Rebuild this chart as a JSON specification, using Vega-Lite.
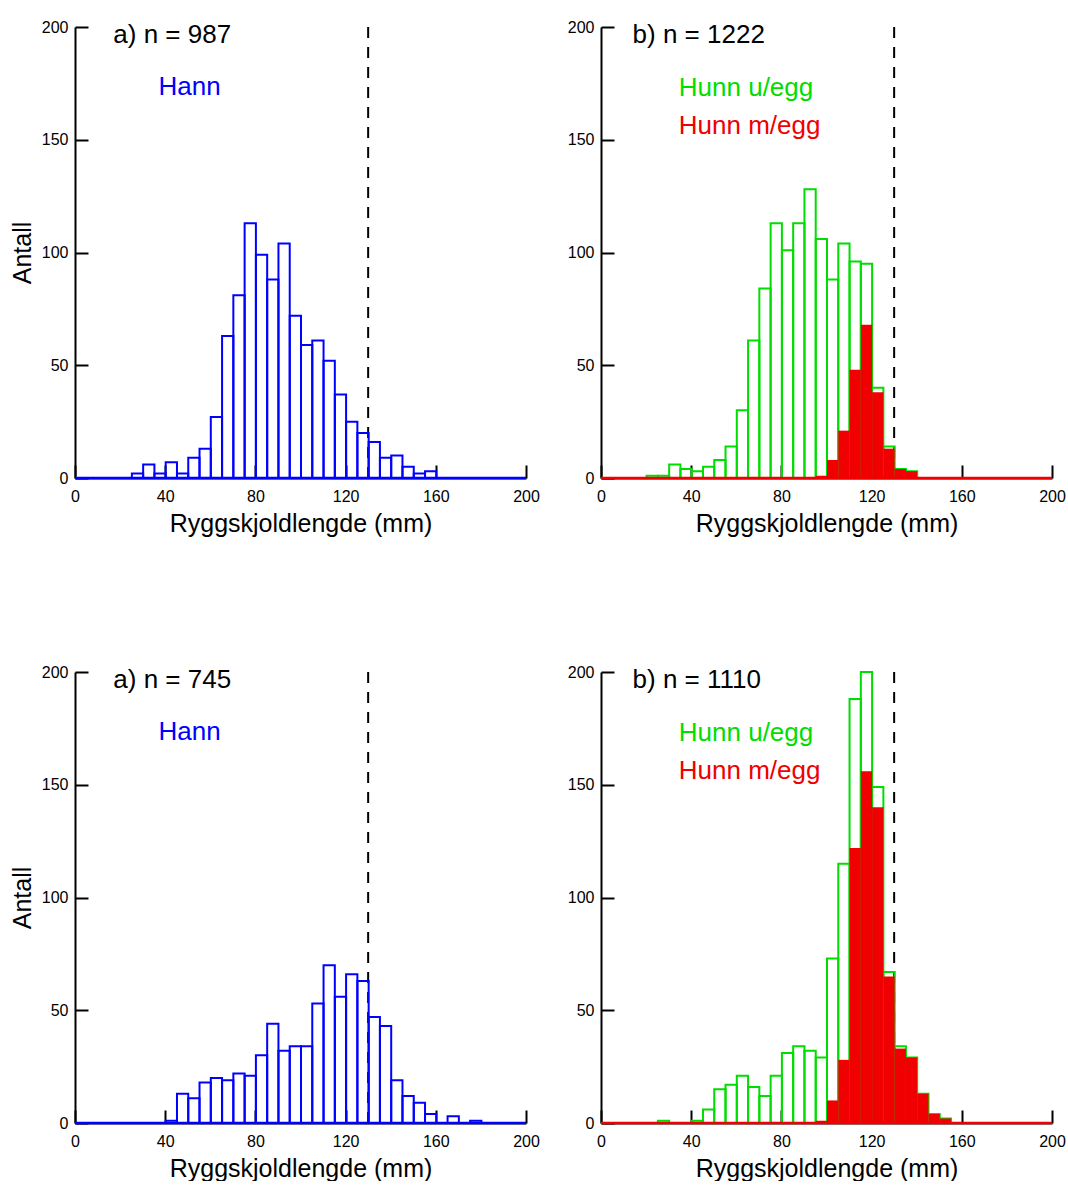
{
  "$schema": "https://vega.github.io/schema/vega-lite/v6.json",
  "padding": {"left": 10, "top": 19, "right": 0, "bottom": 0},
  "background": "white",
  "datasets": {
    "one": [{}],
    "p1": [
      {"mm": 25, "n": 2}, {"mm": 30, "n": 6}, {"mm": 35, "n": 2}, {"mm": 40, "n": 7}, {"mm": 45, "n": 2},
      {"mm": 50, "n": 9}, {"mm": 55, "n": 13}, {"mm": 60, "n": 27}, {"mm": 65, "n": 63}, {"mm": 70, "n": 81},
      {"mm": 75, "n": 113}, {"mm": 80, "n": 99}, {"mm": 85, "n": 88}, {"mm": 90, "n": 104}, {"mm": 95, "n": 72},
      {"mm": 100, "n": 59}, {"mm": 105, "n": 61}, {"mm": 110, "n": 52}, {"mm": 115, "n": 37}, {"mm": 120, "n": 25},
      {"mm": 125, "n": 20}, {"mm": 130, "n": 16}, {"mm": 135, "n": 9}, {"mm": 140, "n": 10}, {"mm": 145, "n": 5},
      {"mm": 150, "n": 2}, {"mm": 155, "n": 3}
    ],
    "p2all": [
      {"mm": 20, "n": 1}, {"mm": 25, "n": 1}, {"mm": 30, "n": 6}, {"mm": 35, "n": 4}, {"mm": 40, "n": 3},
      {"mm": 45, "n": 5}, {"mm": 50, "n": 8}, {"mm": 55, "n": 14}, {"mm": 60, "n": 30}, {"mm": 65, "n": 61},
      {"mm": 70, "n": 84}, {"mm": 75, "n": 113}, {"mm": 80, "n": 101}, {"mm": 85, "n": 113}, {"mm": 90, "n": 128},
      {"mm": 95, "n": 106}, {"mm": 100, "n": 88}, {"mm": 105, "n": 104}, {"mm": 110, "n": 96}, {"mm": 115, "n": 95},
      {"mm": 120, "n": 40}, {"mm": 125, "n": 14}, {"mm": 130, "n": 4}, {"mm": 135, "n": 3}
    ],
    "p2egg": [
      {"mm": 95, "n": 1}, {"mm": 100, "n": 8}, {"mm": 105, "n": 21}, {"mm": 110, "n": 48}, {"mm": 115, "n": 68},
      {"mm": 120, "n": 38}, {"mm": 125, "n": 13}, {"mm": 130, "n": 4}, {"mm": 135, "n": 3}
    ],
    "p3": [
      {"mm": 40, "n": 1}, {"mm": 45, "n": 13}, {"mm": 50, "n": 11}, {"mm": 55, "n": 18}, {"mm": 60, "n": 20},
      {"mm": 65, "n": 19}, {"mm": 70, "n": 22}, {"mm": 75, "n": 21}, {"mm": 80, "n": 30}, {"mm": 85, "n": 44},
      {"mm": 90, "n": 32}, {"mm": 95, "n": 34}, {"mm": 100, "n": 34}, {"mm": 105, "n": 53}, {"mm": 110, "n": 70},
      {"mm": 115, "n": 56}, {"mm": 120, "n": 66}, {"mm": 125, "n": 63}, {"mm": 130, "n": 47}, {"mm": 135, "n": 43},
      {"mm": 140, "n": 19}, {"mm": 145, "n": 12}, {"mm": 150, "n": 9}, {"mm": 155, "n": 4}, {"mm": 165, "n": 3},
      {"mm": 175, "n": 1}
    ],
    "p4all": [
      {"mm": 25, "n": 1}, {"mm": 40, "n": 1}, {"mm": 45, "n": 6}, {"mm": 50, "n": 15}, {"mm": 55, "n": 17},
      {"mm": 60, "n": 21}, {"mm": 65, "n": 16}, {"mm": 70, "n": 12}, {"mm": 75, "n": 21}, {"mm": 80, "n": 31},
      {"mm": 85, "n": 34}, {"mm": 90, "n": 32}, {"mm": 95, "n": 29}, {"mm": 100, "n": 73}, {"mm": 105, "n": 115},
      {"mm": 110, "n": 188}, {"mm": 115, "n": 200}, {"mm": 120, "n": 149}, {"mm": 125, "n": 67}, {"mm": 130, "n": 34},
      {"mm": 135, "n": 29}, {"mm": 140, "n": 13}, {"mm": 145, "n": 4}, {"mm": 150, "n": 2}
    ],
    "p4egg": [
      {"mm": 95, "n": 1}, {"mm": 100, "n": 10}, {"mm": 105, "n": 28}, {"mm": 110, "n": 122}, {"mm": 115, "n": 156},
      {"mm": 120, "n": 140}, {"mm": 125, "n": 65}, {"mm": 130, "n": 33}, {"mm": 135, "n": 29}, {"mm": 140, "n": 13},
      {"mm": 145, "n": 4}, {"mm": 150, "n": 2}
    ]
  },
  "columns": 2,
  "spacing": {"row": 194, "column": 75},
  "bounds": "flush",
  "concat": [
    {
      "width": 451, "height": 451,
      "layer": [
        {"data": {"name": "one"}, "mark": {"type": "rule", "color": "black", "strokeWidth": 2, "strokeDash": [11, 9]},
         "encoding": {"x": {"datum": 130, "type": "quantitative"}}},
        {"data": {"name": "p1"},
         "mark": {"type": "bar", "filled": false, "color": "#0000ff", "strokeWidth": 2, "binSpacing": 0},
         "encoding": {
           "x": {"field": "mm", "type": "quantitative", "bin": {"binned": true, "step": 5},
                 "scale": {"domain": [0, 200], "nice": false},
                 "axis": {"values": [0, 40, 80, 120, 160, 200], "title": "Ryggskjoldlengde (mm)"}},
           "y": {"field": "n", "type": "quantitative", "scale": {"domain": [0, 200], "nice": false},
                 "axis": {"values": [0, 50, 100, 150, 200], "title": "Antall"}}}},
        {"data": {"name": "one"}, "mark": {"type": "text", "align": "left", "baseline": "middle", "font": "Liberation Sans", "fontSize": 26, "color": "black"},
         "encoding": {"x": {"datum": 17, "type": "quantitative"}, "y": {"datum": 196.5, "type": "quantitative"}, "text": {"value": "a) n = 987"}}},
        {"data": {"name": "one"}, "mark": {"type": "text", "align": "left", "baseline": "middle", "font": "Liberation Sans", "fontSize": 26, "color": "#0000ff"},
         "encoding": {"x": {"datum": 37, "type": "quantitative"}, "y": {"datum": 173.5, "type": "quantitative"}, "text": {"value": "Hann"}}},
        {"data": {"name": "one"}, "mark": {"type": "rule", "color": "#0000ff", "strokeWidth": 2.5},
         "encoding": {"x": {"datum": 0, "type": "quantitative"}, "x2": {"datum": 200}, "y": {"datum": 0, "type": "quantitative"}}}
      ]
    },
    {
      "width": 451, "height": 451,
      "layer": [
        {"data": {"name": "one"}, "mark": {"type": "rule", "color": "black", "strokeWidth": 2, "strokeDash": [11, 9]},
         "encoding": {"x": {"datum": 130, "type": "quantitative"}}},
        {"data": {"name": "p2all"},
         "mark": {"type": "bar", "filled": false, "color": "#00dd00", "strokeWidth": 2, "binSpacing": 0},
         "encoding": {
           "x": {"field": "mm", "type": "quantitative", "bin": {"binned": true, "step": 5},
                 "scale": {"domain": [0, 200], "nice": false},
                 "axis": {"values": [0, 40, 80, 120, 160, 200], "title": "Ryggskjoldlengde (mm)"}},
           "y": {"field": "n", "type": "quantitative", "scale": {"domain": [0, 200], "nice": false},
                 "axis": {"values": [0, 50, 100, 150, 200], "title": null}}}},
        {"data": {"name": "p2egg"},
         "mark": {"type": "bar", "filled": true, "color": "#f00000", "binSpacing": 0, "opacity": 1},
         "encoding": {
           "x": {"field": "mm", "type": "quantitative", "bin": {"binned": true, "step": 5}},
           "y": {"field": "n", "type": "quantitative"}}},
        {"data": {"name": "one"}, "mark": {"type": "text", "align": "left", "baseline": "middle", "font": "Liberation Sans", "fontSize": 26, "color": "black"},
         "encoding": {"x": {"datum": 14, "type": "quantitative"}, "y": {"datum": 196.5, "type": "quantitative"}, "text": {"value": "b) n = 1222"}}},
        {"data": {"name": "one"}, "mark": {"type": "text", "align": "left", "baseline": "middle", "font": "Liberation Sans", "fontSize": 26, "color": "#00dd00"},
         "encoding": {"x": {"datum": 34.5, "type": "quantitative"}, "y": {"datum": 173, "type": "quantitative"}, "text": {"value": "Hunn u/egg"}}},
        {"data": {"name": "one"}, "mark": {"type": "text", "align": "left", "baseline": "middle", "font": "Liberation Sans", "fontSize": 26, "color": "#f00000"},
         "encoding": {"x": {"datum": 34.5, "type": "quantitative"}, "y": {"datum": 156, "type": "quantitative"}, "text": {"value": "Hunn m/egg"}}},
        {"data": {"name": "one"}, "mark": {"type": "rule", "color": "#f00000", "strokeWidth": 2.5},
         "encoding": {"x": {"datum": 0, "type": "quantitative"}, "x2": {"datum": 200}, "y": {"datum": 0, "type": "quantitative"}}}
      ]
    },
    {
      "width": 451, "height": 451,
      "layer": [
        {"data": {"name": "one"}, "mark": {"type": "rule", "color": "black", "strokeWidth": 2, "strokeDash": [11, 9]},
         "encoding": {"x": {"datum": 130, "type": "quantitative"}}},
        {"data": {"name": "p3"},
         "mark": {"type": "bar", "filled": false, "color": "#0000ff", "strokeWidth": 2, "binSpacing": 0},
         "encoding": {
           "x": {"field": "mm", "type": "quantitative", "bin": {"binned": true, "step": 5},
                 "scale": {"domain": [0, 200], "nice": false},
                 "axis": {"values": [0, 40, 80, 120, 160, 200], "title": "Ryggskjoldlengde (mm)"}},
           "y": {"field": "n", "type": "quantitative", "scale": {"domain": [0, 200], "nice": false},
                 "axis": {"values": [0, 50, 100, 150, 200], "title": "Antall"}}}},
        {"data": {"name": "one"}, "mark": {"type": "text", "align": "left", "baseline": "middle", "font": "Liberation Sans", "fontSize": 26, "color": "black"},
         "encoding": {"x": {"datum": 17, "type": "quantitative"}, "y": {"datum": 196.5, "type": "quantitative"}, "text": {"value": "a) n = 745"}}},
        {"data": {"name": "one"}, "mark": {"type": "text", "align": "left", "baseline": "middle", "font": "Liberation Sans", "fontSize": 26, "color": "#0000ff"},
         "encoding": {"x": {"datum": 37, "type": "quantitative"}, "y": {"datum": 173.5, "type": "quantitative"}, "text": {"value": "Hann"}}},
        {"data": {"name": "one"}, "mark": {"type": "rule", "color": "#0000ff", "strokeWidth": 2.5},
         "encoding": {"x": {"datum": 0, "type": "quantitative"}, "x2": {"datum": 200}, "y": {"datum": 0, "type": "quantitative"}}}
      ]
    },
    {
      "width": 451, "height": 451,
      "layer": [
        {"data": {"name": "one"}, "mark": {"type": "rule", "color": "black", "strokeWidth": 2, "strokeDash": [11, 9]},
         "encoding": {"x": {"datum": 130, "type": "quantitative"}}},
        {"data": {"name": "p4all"},
         "mark": {"type": "bar", "filled": false, "color": "#00dd00", "strokeWidth": 2, "binSpacing": 0},
         "encoding": {
           "x": {"field": "mm", "type": "quantitative", "bin": {"binned": true, "step": 5},
                 "scale": {"domain": [0, 200], "nice": false},
                 "axis": {"values": [0, 40, 80, 120, 160, 200], "title": "Ryggskjoldlengde (mm)"}},
           "y": {"field": "n", "type": "quantitative", "scale": {"domain": [0, 200], "nice": false},
                 "axis": {"values": [0, 50, 100, 150, 200], "title": null}}}},
        {"data": {"name": "p4egg"},
         "mark": {"type": "bar", "filled": true, "color": "#f00000", "binSpacing": 0, "opacity": 1},
         "encoding": {
           "x": {"field": "mm", "type": "quantitative", "bin": {"binned": true, "step": 5}},
           "y": {"field": "n", "type": "quantitative"}}},
        {"data": {"name": "one"}, "mark": {"type": "text", "align": "left", "baseline": "middle", "font": "Liberation Sans", "fontSize": 26, "color": "black"},
         "encoding": {"x": {"datum": 14, "type": "quantitative"}, "y": {"datum": 196.5, "type": "quantitative"}, "text": {"value": "b) n = 1110"}}},
        {"data": {"name": "one"}, "mark": {"type": "text", "align": "left", "baseline": "middle", "font": "Liberation Sans", "fontSize": 26, "color": "#00dd00"},
         "encoding": {"x": {"datum": 34.5, "type": "quantitative"}, "y": {"datum": 173, "type": "quantitative"}, "text": {"value": "Hunn u/egg"}}},
        {"data": {"name": "one"}, "mark": {"type": "text", "align": "left", "baseline": "middle", "font": "Liberation Sans", "fontSize": 26, "color": "#f00000"},
         "encoding": {"x": {"datum": 34.5, "type": "quantitative"}, "y": {"datum": 156, "type": "quantitative"}, "text": {"value": "Hunn m/egg"}}},
        {"data": {"name": "one"}, "mark": {"type": "rule", "color": "#f00000", "strokeWidth": 2.5},
         "encoding": {"x": {"datum": 0, "type": "quantitative"}, "x2": {"datum": 200}, "y": {"datum": 0, "type": "quantitative"}}}
      ]
    }
  ],
  "config": {
    "view": {"stroke": null},
    "axis": {
      "grid": false, "domainColor": "black", "domainWidth": 2, "tickColor": "black", "tickWidth": 2, "tickSize": -13,
      "labelFont": "Liberation Sans", "labelFontSize": 16, "labelColor": "black", "labelFlush": false, "labelOverlap": false,
      "titleFont": "Liberation Sans", "titleFontSize": 25, "titleFontWeight": "normal", "titleColor": "black"
    },
    "axisX": {"labelPadding": 23, "titlePadding": 7},
    "axisY": {"labelPadding": 20, "titlePadding": 6}
  }
}
